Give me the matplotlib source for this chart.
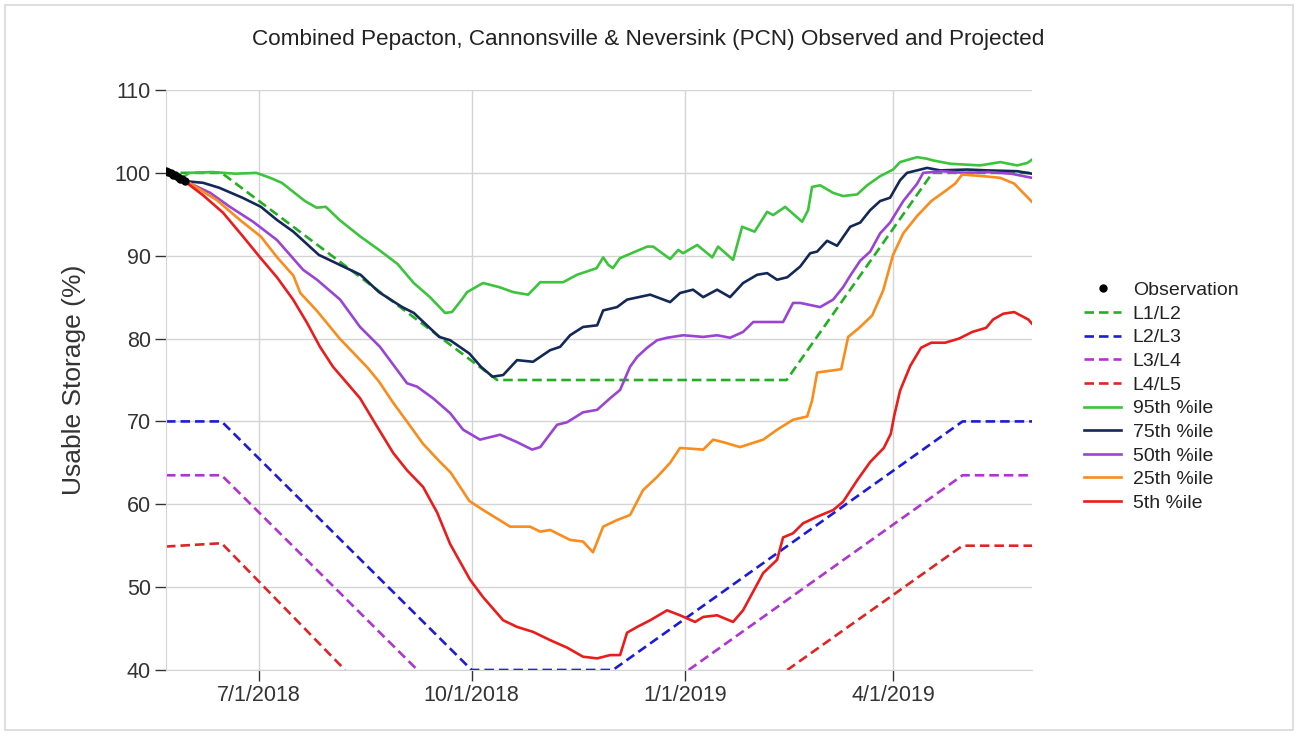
import numpy as np
import pandas as pd
import matplotlib
matplotlib.use("Agg")
import matplotlib.pyplot as plt

plt.rcParams['font.family'] = ['Liberation Sans', 'DejaVu Sans']

# days counted from 5/22/2018
start = pd.Timestamp('2018-05-22')
x_end = 374

obs_day = [0, 1, 2, 3, 4, 5, 6, 7, 8]
obs_val = [100.2, 100.1, 100.0, 99.8, 99.7, 99.5, 99.3, 99.2, 99.0]

# drought rule curves
l12_day = [0, 24, 143, 268, 331, 374]
l12_val = [100, 100, 75, 75, 100, 100]
l23_day = [0, 24, 132, 193, 344, 374]
l23_val = [70, 70, 40, 40, 70, 70]
l34_day = [0, 24, 108.6, np.nan, 225.7, 344, 374]
l34_val = [63.5, 63.5, 40, np.nan, 40, 63.5, 63.5]
l45_day = [0, 24, 77.3, np.nan, 268.3, 344, 374]
l45_val = [54.9, 55.3, 40, np.nan, 40, 55, 55]

p95_day = [8, 10, 20, 30, 39, 45, 50, 55, 60, 65, 69, 75, 84, 92, 100, 107, 114,
           120.5, 123.5, 128, 130, 135.6, 137, 144, 150, 156.4, 161.6, 171.5, 177.5,
           186, 188.8, 191, 193, 196, 207.8, 210.4, 217.7, 221.2, 223.3, 229.4,
           235.9, 238.4, 244.9, 248.8, 254.2, 259.6, 262.2, 267.4, 274.7, 277.3,
           279, 282.5, 288, 292.4, 298.5, 302.8, 308.4, 314, 317, 324.4, 328.7,
           331.3, 338.7, 351.6, 360.3, 367.6, 372, 374]
p95_val = [99.6, 100, 100.1, 99.9, 100, 99.4, 98.8, 97.7, 96.6, 95.8, 95.9, 94.3,
           92.3, 90.7, 89.0, 86.7, 85.0, 83.1, 83.2, 84.8, 85.6, 86.5, 86.7, 86.2,
           85.6, 85.3, 86.8, 86.8, 87.7, 88.5, 89.8, 88.9, 88.5, 89.7, 91.1, 91.1,
           89.6, 90.7, 90.3, 91.3, 89.8, 91.1, 89.5, 93.5, 92.9, 95.3, 94.9, 95.9,
           94.1, 95.5, 98.3, 98.5, 97.6, 97.2, 97.4, 98.5, 99.6, 100.4, 101.3,
           101.9, 101.7, 101.5, 101.1, 100.9, 101.3, 100.9, 101.2, 101.6]

p75_day = [8, 16, 23, 33, 41, 48, 55, 66, 75, 84, 92, 102, 107, 118, 122.7, 131,
           136, 141, 145.6, 151.6, 158.5, 165.9, 170.2, 174.5, 180.1, 186.2, 188.8,
           194.8, 199.1, 209.1, 217.7, 222, 227.6, 232, 238, 243.6, 249.2, 255.3,
           259.6, 263.9, 268.3, 273.9, 278.2, 281.2, 285.5, 289.8, 295.5, 299.8,
           304.1, 308.4, 312.7, 317, 320, 328.7, 334.3, 346, 354.6, 367.6, 374]
p75_val = [99.0, 98.8, 98.2, 97.0, 95.9, 94.3, 92.9, 90.1, 88.9, 87.7, 85.6, 83.8,
           83.1, 80.2, 79.8, 78.2, 76.6, 75.4, 75.6, 77.4, 77.2, 78.6, 79.0, 80.4,
           81.4, 81.6, 83.4, 83.8, 84.7, 85.3, 84.4, 85.5, 85.9, 85.0, 85.9, 85.0,
           86.7, 87.7, 87.9, 87.1, 87.4, 88.7, 90.3, 90.5, 91.8, 91.2, 93.5, 94.0,
           95.5, 96.6, 97.0, 99.1, 100.0, 100.6, 100.3, 100.4, 100.3, 100.2, 99.9]

p50_day = [8, 9, 19, 27.6, 37.6, 47.9, 59.2, 65.2, 75.2, 83.8, 92.4, 104.1, 108.4,
           115.3, 122.7, 128.3, 135.6, 144.3, 151.6, 158.1, 161.6, 168.9, 173.2,
           180.1, 186.2, 191.8, 196.1, 200.4, 203.5, 207.8, 212.1, 216.4, 223.3,
           232, 238, 243.6, 249.2, 253.6, 266.5, 270.8, 273.9, 282.5, 288.1, 292.4,
           295.5, 299.8, 304.1, 308.4, 312.7, 318.4, 324.4, 327, 335, 345, 355,
           365, 374]
p50_val = [99.0, 98.9, 97.6, 95.9, 94.1, 91.9, 88.3, 87.1, 84.7, 81.4, 79.0, 74.6,
           74.2, 72.8, 71.0, 69.0, 67.8, 68.4, 67.5, 66.6, 66.9, 69.6, 69.9, 71.1,
           71.4, 72.8, 73.8, 76.6, 77.8, 78.9, 79.8, 80.1, 80.4, 80.2, 80.4, 80.1,
           80.8, 82.0, 82.0, 84.3, 84.3, 83.8, 84.7, 86.2, 87.6, 89.4, 90.5, 92.7,
           94.0, 96.6, 98.7, 100.0, 100.2, 100.0, 100.1, 99.9, 99.4]

p25_day = [8, 10, 22, 32, 41, 48, 55, 58, 65, 75, 87, 92, 98, 104, 111, 117, 123,
           131, 137, 144, 148.6, 157.2, 161.6, 165.9, 174.5, 180.1, 184.4, 188.8,
           194.8, 200.4, 206, 212.1, 217.7, 222, 232, 236.3, 240.6, 247.9, 257.9,
           263.9, 270.8, 276.9, 279, 281.2, 291.6, 294.6, 299.4, 305, 309.7, 314,
           318.4, 324.4, 330.5, 336.5, 340.8, 343.8, 352.9, 360.3, 366.3, 374]
p25_val = [99.0, 98.8, 96.7, 94.3, 92.3, 89.8, 87.6, 85.5, 83.4, 80.0, 76.5, 74.8,
           72.3, 70.0, 67.3, 65.5, 63.8, 60.4, 59.3, 58.1, 57.3, 57.3, 56.7, 56.9,
           55.7, 55.5, 54.2, 57.3, 58.1, 58.7, 61.7, 63.3, 65.0, 66.8, 66.6, 67.8,
           67.5, 66.9, 67.8, 69.0, 70.2, 70.6, 72.5, 75.9, 76.3, 80.2, 81.3, 82.8,
           85.8, 90.1, 92.7, 94.8, 96.6, 97.8, 98.7, 99.8, 99.6, 99.4, 98.7, 96.5]

p5_day = [8, 16, 24.6, 33.3, 40.6, 47.9, 54.9, 60.9, 66.5, 72.1, 83.8, 91.1, 98.1,
          104.1, 111, 117.1, 122.7, 131.3, 136.9, 145.6, 151.6, 158.5, 165.9,
          173.2, 180.1, 186.2, 191.8, 196.1, 199.1, 203.5, 209.1, 216.4, 222,
          228.5, 232, 238, 244.9, 249.2, 252.3, 257.9, 263.9, 266.5, 270.8, 275.1,
          281.2, 288.1, 292.4, 298.5, 304.1, 310, 313, 314.5, 317, 321.4, 326.1,
          330.5, 336.5, 342.5, 348.2, 354.2, 357.2, 361.6, 366.3, 372.4, 374]
p5_val = [99.0, 97.3, 95.2, 92.3, 89.8, 87.4, 84.7, 81.9, 79.0, 76.6, 72.8, 69.4,
          66.2, 64.1, 62.1, 59.0, 55.2, 50.9, 48.8, 46.0, 45.2, 44.6, 43.6, 42.7,
          41.6, 41.4, 41.8, 41.8, 44.5, 45.2, 46.0, 47.2, 46.6, 45.8, 46.4, 46.6,
          45.8, 47.2, 48.8, 51.7, 53.3, 56.0, 56.5, 57.7, 58.5, 59.3, 60.3, 62.9,
          65.1, 66.8, 68.5, 70.7, 73.7, 76.7, 78.9, 79.5, 79.5, 80.0, 80.8, 81.3,
          82.3, 83.0, 83.2, 82.3, 81.8]


def to_dates(days):
    return start + pd.to_timedelta(np.asarray(days, dtype=float), unit='D')


fig = plt.figure(figsize=(12.97, 7.36), dpi=100)
ax = fig.add_axes([0.128, 0.0897, 0.6677, 0.788])

dash = (3.6, 1.9)
lw = 1.9
ax.plot(to_dates(obs_day), obs_val, 'o', color='black', ms=5, label='Observation', zorder=5)
ax.plot(to_dates(l12_day), l12_val, '--', dashes=dash, color='#22b022', lw=lw, label='L1/L2')
ax.plot(to_dates(l23_day), l23_val, '--', dashes=dash, color='#1c1cd8', lw=lw, label='L2/L3')
ax.plot(to_dates(l34_day), l34_val, '--', dashes=dash, color='#b034d0', lw=lw, label='L3/L4')
ax.plot(to_dates(l45_day), l45_val, '--', dashes=dash, color='#e02424', lw=lw, label='L4/L5')
ax.plot(to_dates(p95_day), p95_val, color='#3cc43c', lw=lw, label='95th %ile')
ax.plot(to_dates(p75_day), p75_val, color='#142858', lw=lw, label='75th %ile')
ax.plot(to_dates(p50_day), p50_val, color='#9a44d4', lw=lw, label='50th %ile')
ax.plot(to_dates(p25_day), p25_val, color='#fa8c1c', lw=lw, label='25th %ile')
ax.plot(to_dates(p5_day), p5_val, color='#ea1c1c', lw=lw, label='5th %ile')

ax.set_xlim(start, start + pd.Timedelta(days=x_end))
ax.set_ylim(40, 110)
ax.set_yticks(np.arange(40, 111, 10))
xt = pd.to_datetime(['2018-07-01', '2018-10-01', '2019-01-01', '2019-04-01'])
ax.set_xticks(xt)
ax.set_xticklabels([f'{d.month}/{d.day}/{d.year}' for d in xt])

ax.grid(True, color='#d4d4d4', lw=1)
ax.set_axisbelow(True)
for s in ['top', 'right']:
    ax.spines[s].set_visible(False)
for s in ['left', 'bottom']:
    ax.spines[s].set_color('#d4d4d4')
ax.tick_params(axis='both', length=8, width=1, color='#333333', labelsize=15.5,
               labelcolor='#333333', pad=3)

ax.set_ylabel('Usable Storage (%)', fontsize=19, color='#333333')
ax.yaxis.set_label_coords(-0.092, 0.5)
fig.text(0.5, 1 - 40 / 736, 'Combined Pepacton, Cannonsville & Neversink (PCN) Observed and Projected',
         ha='center', va='center', fontsize=16.2, color='#222222')

ax.legend(loc='upper left', bbox_to_anchor=(1.04, 0.70), frameon=False, fontsize=14,
          labelspacing=0.31, handlelength=1.9, handletextpad=0.6, numpoints=1,
          labelcolor='#222222')

fig.add_artist(plt.Rectangle((0.004, 0.008), 0.993, 0.985, fill=False,
                             edgecolor='#d8d8d8', lw=1.2, transform=fig.transFigure))

fig.savefig('out.png', dpi=100)
